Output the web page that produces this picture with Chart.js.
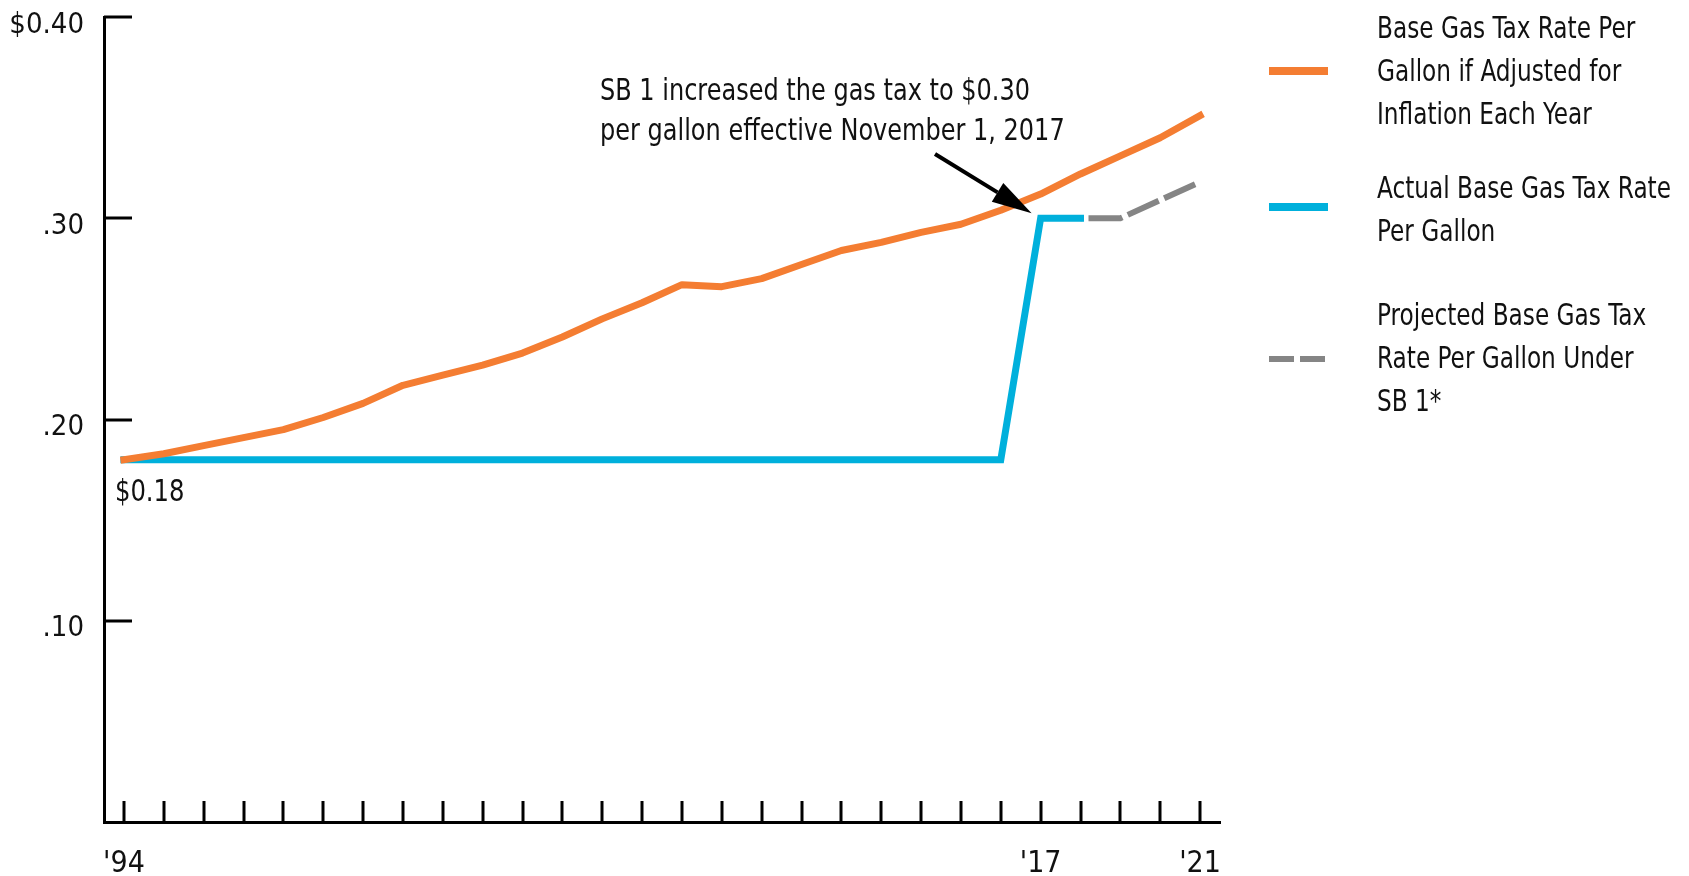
<!DOCTYPE html>
<html lang="en">
<head>
    <meta charset="UTF-8">
    <title>Base Gas Tax Rate Per Gallon</title>
    <script src="https://cdn.jsdelivr.net/npm/chart.js"></script>
    <style>
        body {
            margin: 0;
            background-color: #ffffff;
        }

        canvas {
            display: block;
        }
    </style>
</head>
<body>
    <canvas id="gasTaxChart" width="1689" height="876"></canvas>

    <script>
        // Data
        const years = [1994, 1995, 1996, 1997, 1998, 1999, 2000, 2001, 2002, 2003, 2004, 2005, 2006, 2007,
            2008, 2009, 2010, 2011, 2012, 2013, 2014, 2015, 2016, 2017, 2018, 2019, 2020, 2021];
        const inflationAdjusted = [0.180, 0.183, 0.187, 0.191, 0.195, 0.201, 0.208, 0.217, 0.222, 0.227,
            0.233, 0.241, 0.250, 0.258, 0.267, 0.266, 0.270, 0.277, 0.284, 0.288, 0.293, 0.297, 0.304,
            0.312, 0.322, 0.331, 0.340, 0.351];
        const actualRate = [0.18, 0.18, 0.18, 0.18, 0.18, 0.18, 0.18, 0.18, 0.18, 0.18, 0.18, 0.18, 0.18,
            0.18, 0.18, 0.18, 0.18, 0.18, 0.18, 0.18, 0.18, 0.18, 0.18, 0.30, 0.30, null, null, null];
        const projectedRate = [null, null, null, null, null, null, null, null, null, null, null, null, null,
            null, null, null, null, null, null, null, null, null, null, null, 0.30, 0.30, 0.309, 0.318];
        const yTickLabels = { '0.1': '.10', '0.2': '.20', '0.3': '.30', '0.4': '$0.40' };
        const xTickLabels = { 1994: "'94", 2017: "'17", 2021: "'21" };
        const seriesNames = [
            ['Base Gas Tax Rate Per', 'Gallon if Adjusted for', 'Inflation Each Year'],
            ['Actual Base Gas Tax Rate', 'Per Gallon'],
            ['Projected Base Gas Tax', 'Rate Per Gallon Under', 'SB 1*']
        ];
        const noteLines = ['SB 1 increased the gas tax to $0.30', 'per gallon effective November 1, 2017'];

        const ORANGE = '#f47d32';
        const BLUE = '#00b0dc';
        const GREY = '#858585';
        const FONT = '"Liberation Sans Narrow", "DejaVu Sans Condensed", "Roboto Condensed", "Open Sans", sans-serif';

        const toPoints = arr => years.map((yr, i) => ({ x: yr, y: arr[i] }));

        // squeeze text sideways, the original uses a condensed face
        function condensedText(ctx, text, x, y, squeeze) {
            ctx.save();
            ctx.translate(x, y);
            ctx.scale(squeeze, 1);
            ctx.fillText(text, 0, 0);
            ctx.restore();
        }

        // Inward tick marks, legend, annotation and arrow
        const extras = {
            id: 'extras',
            beforeDatasetsDraw(chart) {
                const { ctx, chartArea, scales: { x, y } } = chart;
                ctx.save();
                ctx.strokeStyle = '#000';
                ctx.lineWidth = 3;
                ctx.beginPath();
                x.ticks.forEach(t => {
                    const px = Math.round(x.getPixelForValue(t.value));
                    ctx.moveTo(px, chartArea.bottom);
                    ctx.lineTo(px, chartArea.bottom - 21);
                });
                y.ticks.forEach(t => {
                    if (t.value === 0) return;
                    const py = Math.round(y.getPixelForValue(t.value));
                    ctx.moveTo(chartArea.left, py);
                    ctx.lineTo(chartArea.left + 28, py);
                });
                ctx.stroke();
                ctx.restore();
            },
            afterDraw(chart) {
                const { ctx, scales: { x, y } } = chart;
                ctx.save();
                ctx.fillStyle = '#111';
                ctx.font = '30px ' + FONT;
                ctx.textBaseline = 'middle';
                ctx.textAlign = 'left';

                // starting value label
                condensedText(ctx, '$0.18', x.getPixelForValue(years[0]) - 9, y.getPixelForValue(actualRate[0]) + 33, 0.9);

                // note text
                noteLines.forEach((line, i) => condensedText(ctx, line, 600, 92 + i * 40, 0.89));

                // arrow to the 2017 point
                const tx = x.getPixelForValue(2017) - 9;
                const ty = y.getPixelForValue(actualRate[23]) - 5;
                const sx = 935, sy = 154;
                const ang = Math.atan2(ty - sy, tx - sx);
                const headLen = 40, headHalf = 11;
                const bx = tx - headLen * Math.cos(ang), by = ty - headLen * Math.sin(ang);
                ctx.strokeStyle = '#000';
                ctx.lineWidth = 4;
                ctx.beginPath();
                ctx.moveTo(sx, sy);
                ctx.lineTo(bx, by);
                ctx.stroke();
                ctx.fillStyle = '#000';
                ctx.beginPath();
                ctx.moveTo(tx, ty);
                ctx.lineTo(bx + headHalf * Math.sin(ang), by - headHalf * Math.cos(ang));
                ctx.lineTo(bx - headHalf * Math.sin(ang), by + headHalf * Math.cos(ang));
                ctx.closePath();
                ctx.fill();

                // legend
                const legendRows = [
                    { color: ORANGE, dash: [], width: 8, sampleY: 71, textY: 30 },
                    { color: BLUE, dash: [], width: 8, sampleY: 207, textY: 190 },
                    { color: GREY, dash: [25, 6], width: 6, sampleY: 359, textY: 317 }
                ];
                legendRows.forEach((row, i) => {
                    ctx.strokeStyle = row.color;
                    ctx.lineWidth = row.width;
                    ctx.setLineDash(row.dash);
                    ctx.beginPath();
                    ctx.moveTo(1269, row.sampleY);
                    ctx.lineTo(1328, row.sampleY);
                    ctx.stroke();
                    ctx.setLineDash([]);
                    ctx.fillStyle = '#111';
                    seriesNames[i].forEach((line, j) => condensedText(ctx, line, 1377, row.textY + j * 43, 0.86));
                });
                ctx.restore();
            }
        };

        const ctx = document.getElementById('gasTaxChart').getContext('2d');
        const gasTaxChart = new Chart(ctx, {
            type: 'line',
            data: {
                datasets: [{
                    label: seriesNames[0].join(' '),
                    data: toPoints(inflationAdjusted),
                    borderColor: ORANGE,
                    borderWidth: 7,
                    borderCapStyle: 'square',
                    borderJoinStyle: 'round'
                },
                {
                    label: seriesNames[1].join(' '),
                    data: toPoints(actualRate),
                    borderColor: BLUE,
                    borderWidth: 7,
                    borderCapStyle: 'square',
                    borderJoinStyle: 'miter'
                },
                {
                    label: seriesNames[2].join(' '),
                    data: toPoints(projectedRate),
                    borderColor: GREY,
                    borderWidth: 6,
                    borderDash: [34, 6],
                    borderDashOffset: 32,
                    borderCapStyle: 'butt'
                }]
            },
            options: {
                responsive: false,
                animation: false,
                events: [],
                elements: {
                    point: { radius: 0 },
                    line: { tension: 0 }
                },
                layout: {
                    padding: { left: 0, top: 17, right: 469, bottom: 0 }
                },
                plugins: {
                    legend: { display: false },
                    tooltip: { enabled: false }
                },
                scales: {
                    x: {
                        type: 'linear',
                        min: 1993.5,
                        max: 2021.5,
                        afterBuildTicks: scale => {
                            scale.ticks = years.map(v => ({ value: v }));
                        },
                        afterFit: scale => {
                            scale.height = 54;
                            scale.paddingLeft = 0;
                            scale.paddingRight = 0;
                        },
                        grid: { display: false, drawTicks: false },
                        border: { display: true, color: '#000', width: 3 },
                        ticks: {
                            autoSkip: false,
                            maxRotation: 0,
                            padding: 24,
                            color: '#111',
                            font: { family: FONT, size: 30 },
                            callback: value => xTickLabels[value] || ''
                        }
                    },
                    y: {
                        min: 0,
                        max: 0.4,
                        afterBuildTicks: scale => {
                            scale.ticks = [0, 0.1, 0.2, 0.3, 0.4].map(v => ({ value: v }));
                        },
                        afterFit: scale => {
                            scale.width = 104;
                            scale.paddingTop = 0;
                            scale.paddingBottom = 0;
                        },
                        grid: { display: false, drawTicks: false },
                        border: { display: true, color: '#000', width: 3 },
                        ticks: {
                            padding: 20,
                            labelOffset: 8,
                            color: '#111',
                            font: { family: FONT, size: 29 },
                            callback: value => yTickLabels[String(Math.round(value * 10) / 10)] || ''
                        }
                    }
                }
            },
            plugins: [extras]
        });
    </script>
</body>
</html>
